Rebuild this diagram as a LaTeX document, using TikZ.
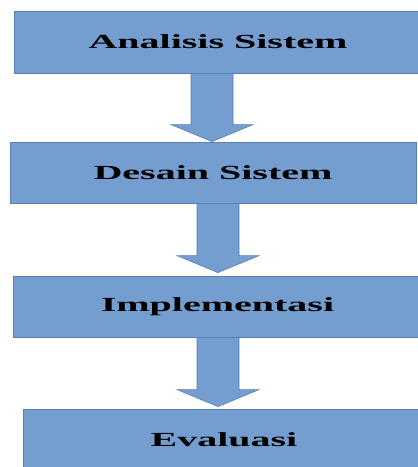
\documentclass[tikz,border=0pt]{standalone}
\usepackage{fontspec}
\setmainfont{Liberation Serif}
\usetikzlibrary{calc}
\definecolor{boxfill}{RGB}{115,158,207}
\definecolor{boxline}{RGB}{86,128,182}
\tikzset{
  stagebox/.style={draw=boxline, fill=boxfill, line width=0.8pt, rectangle, inner sep=0pt,
    font=\bfseries\fontsize{20}{24}\selectfont, text=black},
  flowarrow/.style={draw=boxline, fill=boxfill, line width=0.6pt, line join=miter}
}
\newcommand{\flowblock}[4]{% from, to, x offset, gap at tip
  \path[flowarrow] let \p1=($(#1.south)+(#3,0)$), \p2=($(#2.north)+(0,#4)$) in
    (\x1-21pt,\y1) -- (\x1-21pt,\y2+17pt) -- (\x1-41pt,\y2+17pt) -- (\x1,\y2)
    -- (\x1+41pt,\y2+17pt) -- (\x1+21pt,\y2+17pt) -- (\x1+21pt,\y1) -- cycle;
}
\begin{document}
\begin{tikzpicture}[x=1pt,y=1pt]
\useasboundingbox (0,0) rectangle (418,-467);
\clip (0,0) rectangle (418,-467);
\node[stagebox, minimum width=408pt, minimum height=62pt] (analisis) at (218,-42) {\scalebox{2}[1]{Analisis Sistem}};
\node[stagebox, minimum width=406pt, minimum height=61pt] (desain) at (213,-172.5) {\scalebox{2}[1]{Desain Sistem}};
\node[stagebox, minimum width=409pt, minimum height=61pt] (implementasi) at (217.5,-306.5) {\scalebox{2}[1]{Implementasi}};
\node[stagebox, minimum width=402pt, minimum height=61pt] (evaluasi) at (224,-439.5) {\scalebox{2}[1]{Evaluasi}};
\flowblock{analisis}{desain}{-6pt}{0pt}
\flowblock{desain}{implementasi}{5pt}{3pt}
\flowblock{implementasi}{evaluasi}{0.5pt}{2pt}
\end{tikzpicture}
\end{document}
